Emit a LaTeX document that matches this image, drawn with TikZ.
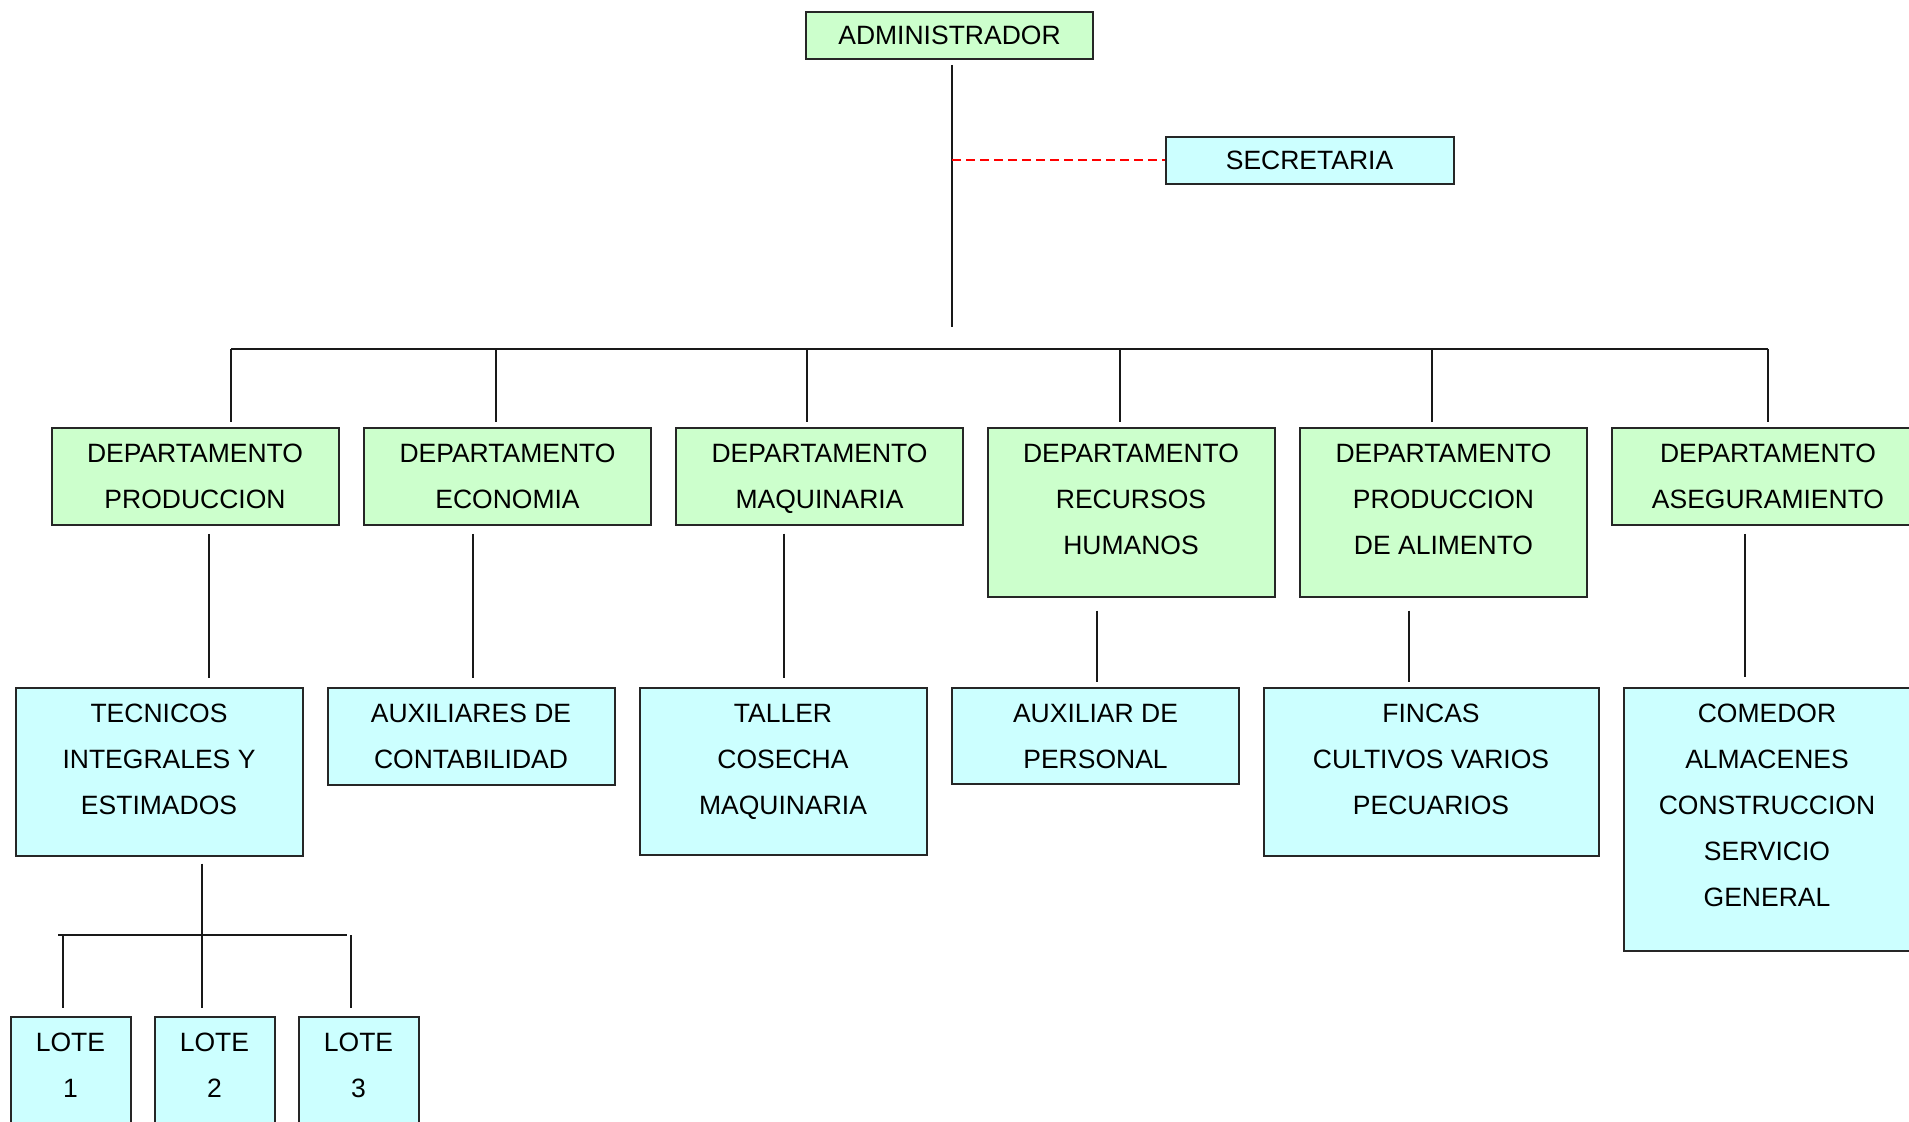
\documentclass[tikz,border=0pt]{standalone}
\usepackage{fontspec}
\setmainfont{Liberation Sans}
\usepackage{tikz}
\usetikzlibrary{shapes,arrows,positioning}
\definecolor{deptgreen}{HTML}{CCFFCC}
\definecolor{unitcyan}{HTML}{CCFFFF}
\newcommand{\boxtail}[1]{\rule[-#1]{0pt}{#1}}

\begin{document}
\begin{tikzpicture}[x=0.5pt, y=-0.5pt, line width=1pt, dept/.style = {rectangle, draw=black!85, fill=deptgreen, minimum width=143.5pt, align=center, inner xsep=4pt, inner ysep=8pt, anchor=north, font=\fontsize{13.25}{23}\selectfont}, unit/.style = {dept, fill=unitcyan}, oneline/.style = {inner ysep=7pt}, line/.style = {draw, black!90}, link/.style = {draw, red, dash pattern=on 4.5pt off 2.5pt}]
					\useasboundingbox (0,0) rectangle (1909,1122);
					\clip (0,0) rectangle (1909,1122);
					\node[dept,oneline] (adm) at (949.5,11) {ADMINISTRADOR};
					\node[unit,oneline,minimum width=144pt] (sec) at (1309.5,136) {SECRETARIA};
					\node[dept] (dp1) at (195,427) {DEPARTAMENTO\\PRODUCCION};
					\node[dept] (dp2) at (507.5,427) {DEPARTAMENTO\\ECONOMIA};
					\node[dept] (dp3) at (819.5,427) {DEPARTAMENTO\\\smash{MAQUINARIA}};
					\node[dept] (dp4) at (1131,427) {DEPARTAMENTO\\RECURSOS\\HUMANOS\boxtail{13pt}};
					\node[dept] (dp5) at (1443.5,427) {DEPARTAMENTO\\PRODUCCION\\DE ALIMENTO\boxtail{13pt}};
					\node[dept,minimum width=156pt] (dp6) at (1768,427) {DEPARTAMENTO\\ASEGURAMIENTO};
					\node[unit] (tec) at (159,687) {TECNICOS\\INTEGRALES Y\\ESTIMADOS\boxtail{12.5pt}};
					\node[unit] (aux) at (471,687) {AUXILIARES DE\\CONTABILIDAD};
					\node[unit] (tal) at (783,687) {TALLER\\COSECHA\\MAQUINARIA\boxtail{12.5pt}};
					\node[unit] (per) at (1095.5,687) {AUXILIAR DE\\PERSONAL};
					\node[unit,minimum width=167.5pt] (fin) at (1431,687) {FINCAS\\CULTIVOS VARIOS\\PECUARIOS\boxtail{12.5pt}};
					\node[unit] (com) at (1767,687) {COMEDOR\\ALMACENES\\CONSTRUCCION\\SERVICIO\\GENERAL\boxtail{14pt}};
					\node[unit,minimum width=60pt] (lt1) at (70.5,1016) {LOTE\\1\boxtail{20pt}};
					\node[unit,minimum width=60pt] (lt2) at (214.5,1016) {LOTE\\2\boxtail{20pt}};
					\node[unit,minimum width=60pt] (lt3) at (358.5,1016) {LOTE\\3\boxtail{20pt}};
					\coordinate (admend) at (952,327);
					\coordinate (busL) at (231,349);
					\coordinate (busR) at (1768,349);
					\coordinate (lbusL) at (58,935);
					\coordinate (lbusR) at (347,935);
					
					\path[line,shorten <=2.5pt] (admend |- adm.south) -- (admend);
					\path[link] (admend |- sec.west) -- (sec.west);
					\path[line] (busL) -- (busR);
					\foreach \n/\dx in {dp1/18pt, dp2/-5.75pt, dp3/-6.25pt, dp4/-5.5pt, dp5/-5.75pt, dp6/0pt}
						\path[line,shorten >=2.5pt] ([xshift=\dx]\n.north |- busL) -- ([xshift=\dx]\n.north);
					\foreach \a/\b/\dx/\g/\h in {dp1/tec/7pt/4pt/4.5pt, dp2/aux/-17.25pt/4pt/4.5pt, dp3/tal/-17.75pt/4pt/4.5pt, dp4/per/-17pt/6.5pt/2.5pt, dp5/fin/-17.25pt/6.5pt/2.5pt, dp6/com/-11.5pt/4pt/5pt}
						\path[line,shorten <=\g,shorten >=\h] ([xshift=\dx]\a.south) -- ([xshift=\dx]\a.south |- \b.north);
					\path[line,shorten <=3.5pt] ([xshift=21.5pt]tec.south) -- ([xshift=21.5pt]tec.south |- lbusL);
					\path[line] (lbusL) -- (lbusR);
					\foreach \n/\dx in {lt1/-3.75pt, lt2/-6.25pt, lt3/-3.75pt}
						\path[line,shorten >=4pt] ([xshift=\dx]\n.north |- lbusL) -- ([xshift=\dx]\n.north);
				\end{tikzpicture}
\end{document}
